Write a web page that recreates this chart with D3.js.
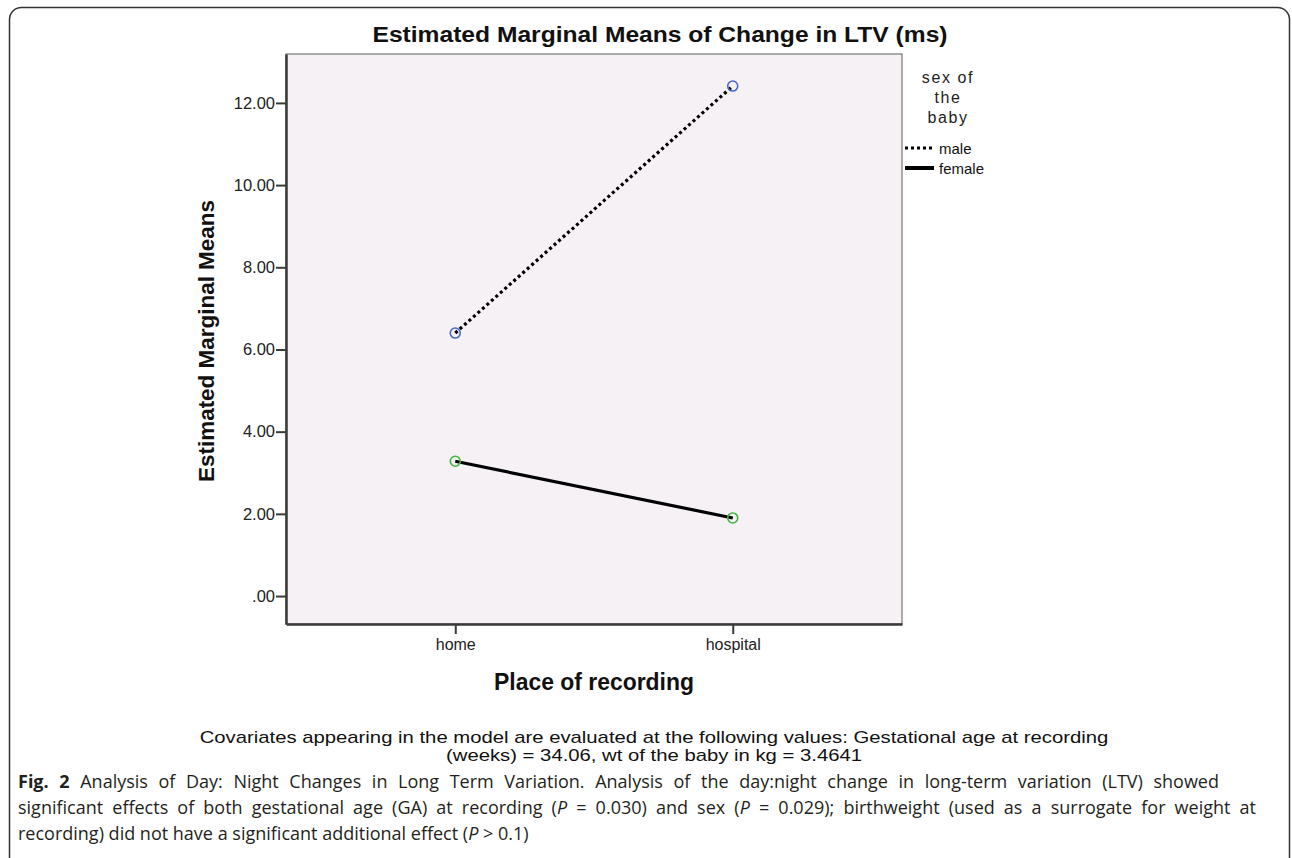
<html lang="en">
<head>
  <meta http-equiv="Content-Type" content="text/html; charset=utf-8" />
  <script src="https://d3js.org/d3.v7.min.js"></script>
  <style>
    body { margin: 0; background: #fff; }
  </style>
</head>
<body>
  <div id="chart"></div>
  <script>
    'use strict';
    // data
    const places = ["home", "hospital"];
    const sexes = ["male", "female"];
    const maleMeans = [6.40, 12.41];
    const femaleMeans = [3.28, 1.90];
    const yTicks = [0, 2, 4, 6, 8, 10, 12];

    const svgWidth = 1292, svgHeight = 858;
    const plot = {left: 286, right: 902, top: 54, bottom: 624};

    const svg = d3.select("#chart").append("svg")
      .attr("width", svgWidth).attr("height", svgHeight);

    // outer frame, runs off the bottom
    svg.append("rect").attr("x", 9.5).attr("y", 7.5)
      .attr("width", 1280).attr("height", 900).attr("rx", 12)
      .attr("fill", "none").attr("stroke", "#333").attr("stroke-width", 1.5);

    const x = d3.scalePoint().domain(places).range([plot.left, plot.right]).padding(0.61);
    const y = d3.scaleLinear().domain([-0.68, 13.19]).range([plot.bottom, plot.top]);

    // plot background
    svg.append("rect").attr("x", plot.left).attr("y", plot.top)
      .attr("width", plot.right - plot.left).attr("height", plot.bottom - plot.top)
      .attr("fill", "#F5F1F5").attr("stroke", "#777").attr("stroke-width", 1.2);

    const font = "'Liberation Sans', Arial, sans-serif";

    // y axis
    const yAxis = svg.append("g").attr("transform", `translate(${plot.left},0)`)
      .call(d3.axisLeft(y).tickValues(yTicks).tickSize(10).tickSizeOuter(0).tickPadding(1)
        .tickFormat(d => d === 0 ? ".00" : d3.format(".2f")(d)));
    yAxis.select(".domain").attr("stroke", "#3a3a3a").attr("stroke-width", 2.5);
    yAxis.selectAll(".tick line").attr("stroke", "#3a3a3a").attr("stroke-width", 2);
    yAxis.selectAll(".tick text").attr("font-family", font).attr("font-size", 16.5).attr("fill", "#222");

    // x axis
    const xAxis = svg.append("g").attr("transform", `translate(0,${plot.bottom})`)
      .call(d3.axisBottom(x).tickSize(10).tickSizeOuter(0).tickPadding(5));
    xAxis.select(".domain").attr("stroke", "#3a3a3a").attr("stroke-width", 2.5);
    xAxis.selectAll(".tick line").attr("stroke", "#3a3a3a").attr("stroke-width", 2);
    xAxis.selectAll(".tick text").attr("font-family", font).attr("font-size", 16).attr("fill", "#222");

    // lines
    const series = [
      {name: "male", values: maleMeans, dash: "3,3", marker: "#4A66CC"},
      {name: "female", values: femaleMeans, dash: null, marker: "#3CB83C"}
    ];
    const line = d3.line().x((d, i) => x(places[i])).y(d => y(d));
    series.forEach(s => {
      svg.append("path").attr("d", line(s.values))
        .attr("fill", "none").attr("stroke", "#000").attr("stroke-width", 3.2)
        .attr("stroke-dasharray", s.dash);
      svg.selectAll(null).data(s.values).enter().append("circle")
        .attr("cx", (d, i) => x(places[i])).attr("cy", d => y(d)).attr("r", 5)
        .attr("fill", "none").attr("stroke", s.marker).attr("stroke-width", 1.6);
    });

    // titles
    svg.append("text").attr("x", 660).attr("y", 42).attr("text-anchor", "middle")
      .attr("font-family", font).attr("font-weight", "bold").attr("font-size", 22).attr("fill", "#111")
      .attr("textLength", 575).attr("lengthAdjust", "spacingAndGlyphs")
      .text("Estimated Marginal Means of Change in LTV (ms)");
    svg.append("text").attr("transform", "translate(214,341) rotate(-90)")
      .attr("text-anchor", "middle").attr("font-family", font).attr("font-weight", "bold")
      .attr("font-size", 22.5).attr("fill", "#111")
      .attr("textLength", 282).attr("lengthAdjust", "spacingAndGlyphs")
      .text("Estimated Marginal Means");
    svg.append("text").attr("x", 594).attr("y", 690).attr("text-anchor", "middle")
      .attr("font-family", font).attr("font-weight", "bold").attr("font-size", 23).attr("fill", "#111")
      .attr("textLength", 200).attr("lengthAdjust", "spacingAndGlyphs")
      .text("Place of recording");

    // legend
    const legend = svg.append("g");
    ["sex of", "the", "baby"].forEach((t, i) => {
      legend.append("text").attr("x", 948).attr("y", 83 + i * 20).attr("text-anchor", "middle")
        .attr("font-family", font).attr("font-size", 16).attr("letter-spacing", 1.6).attr("fill", "#222")
        .text(t);
    });
    series.forEach((s, i) => {
      const ly = 148 + i * 20;
      legend.append("line").attr("x1", 905).attr("x2", 934).attr("y1", ly).attr("y2", ly)
        .attr("stroke", "#000").attr("stroke-width", s.dash ? 3 : 4).attr("stroke-dasharray", s.dash);
      legend.append("text").attr("x", 939).attr("y", ly + 6)
        .attr("font-family", font).attr("font-size", 15).attr("fill", "#111").text(sexes[i]);
    });

    // covariate note: same glyph squeeze on both lines, second line sized from the picture
    const note = ["Covariates appearing in the model are evaluated at the following values: Gestational age at recording",
                  "(weeks) = 34.06, wt of the baby in kg = 3.4641"];
    const noteTexts = note.map((t, i) =>
      svg.append("text").attr("x", 654).attr("y", 743 + i * 18).attr("text-anchor", "middle")
        .attr("font-family", font).attr("font-size", 17).attr("fill", "#111").text(t));
    const noteSx = 416 / noteTexts[1].node().getComputedTextLength();
    noteTexts.forEach(t => t.attr("textLength", t.node().getComputedTextLength() * noteSx)
      .attr("lengthAdjust", "spacingAndGlyphs"));

    // figure caption: first two lines justified with word spacing, last line left as is
    const capFont = "'Open Sans', 'Noto Sans', sans-serif";
    const capLines = [
      [["b", "Fig. 2"], ["", " Analysis of Day: Night Changes in Long Term Variation. Analysis of the day:night change in long-term variation (LTV) showed"]],
      [["", "significant effects of both gestational age (GA) at recording ("], ["i", "P"], ["", " = 0.030) and sex ("], ["i", "P"],
       ["", " = 0.029); birthweight (used as a surrogate for weight at"]],
      [["", "recording) did not have a significant additional effect ("], ["i", "P"], ["", " > 0.1)"]]
    ];
    const capEnds = [1219, 1256, null];
    capLines.forEach((parts, i) => {
      const t = svg.append("text").attr("x", 18).attr("y", 788 + i * 26)
        .attr("font-family", capFont).attr("font-size", 18).attr("fill", "#231f20");
      parts.forEach(([kind, str]) => {
        const ts = t.append("tspan").text(str);
        if (kind === "b") ts.attr("font-weight", "bold");
        if (kind === "i") ts.attr("font-style", "italic");
      });
      if (capEnds[i]) {
        const natural = t.node().getComputedTextLength();
        const spaces = t.text().split(" ").length - 1;
        const ws = (capEnds[i] - 18 - natural) / spaces;
        if (ws >= 0) t.attr("word-spacing", ws);
        else t.attr("textLength", capEnds[i] - 18).attr("lengthAdjust", "spacingAndGlyphs");
      }
    });
  </script>
</body>
</html>
